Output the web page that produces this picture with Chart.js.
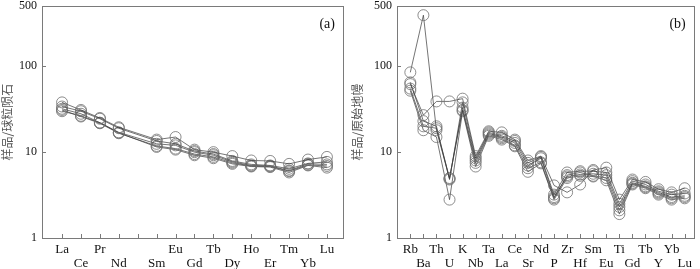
<!DOCTYPE html>
<html><head><meta charset="utf-8">
<script src="https://cdn.jsdelivr.net/npm/chart.js@4.4.1/dist/chart.umd.min.js"></script>
<style>
html,body{margin:0;padding:0;background:#fff;}
#wrap{display:flex;width:700px;height:269px;}
canvas{display:block;}
</style></head><body>
<div id="wrap"><canvas id="ca" width="350" height="269"></canvas><canvas id="cb" width="350" height="269"></canvas></div>
<script>
// ---- Panel (a): chondrite-normalized REE ----
const reeLabels = ['La','Ce','Pr','Nd','','Sm','Eu','Gd','Tb','Dy','Ho','Er','Tm','Yb','Lu'];
const reeS1 = [38, 31, 25, 19.5, null, 14, 15, 10.7, 10, 9.0, 8.0, 7.9, 7.3, 8.2, 8.8];
const reeS2 = [34, 30, 24.5, 19, null, 13.5, 12.5, 10.3, 9.5, 7.9, 7.2, 7.0, 6.4, 7.4, 7.7];
const reeS3 = [32, 28, 22, 17, null, 12.5, 12, 10, 9.2, 7.7, 7.0, 6.9, 6.1, 7.3, 7.2];
const reeS4 = [31, 26, 21.7, 16.6, null, 11.8, 11, 9.5, 8.8, 7.5, 6.9, 6.8, 6.0, 7.1, 6.9];
const reeS5 = [30, 26.5, 22, 16.8, null, 11.5, 10.7, 9.2, 8.5, 7.3, 6.8, 6.7, 5.8, 7.0, 6.6];

// ---- Panel (b): primitive-mantle-normalized spider ----
const spLabels = ['Rb','Ba','Th','U','K','Nb','Ta','La','Ce','Sr','Nd','P','Zr','Hf','Sm','Eu','Ti','Gd','Tb','Y','Yb','Lu'];
const spS1 = [85, 394, 18, 4.9, 33, 8.0, 16.5, 15, 12.8, 7.0, 8.5, 3.0, 5.2, 5.5, 5.6, 5.4, 2.3, 4.4, 4.0, 3.4, 3.0, 3.1];
const spS2 = [62, 27, 39, 39, 42, 9.0, 17.5, 17, 14, 8.0, 9.0, 4.1, 3.4, 4.2, 6.2, 6.6, 2.8, 4.8, 4.5, 3.7, 3.4, 3.8];
const spS3 = [65, 23, 20, 4.8, 38, 8.5, 17, 15.5, 13.5, 7.5, 8.8, 3.2, 5.8, 6.0, 6.0, 5.8, 2.5, 4.6, 4.2, 3.5, 3.2, 3.3];
const spS4 = [55, 20, 19, 5.0, 31, 7.5, 16, 14.5, 12, 6.5, 7.6, 2.9, 5.4, 5.8, 5.3, 5.0, 2.1, 4.3, 3.9, 3.3, 2.9, 3.0];
const spS5 = [52, 18, 15, 2.8, 30, 6.8, 15.5, 14, 11.7, 5.9, 7.4, 2.8, 5.0, 5.3, 5.2, 4.7, 1.9, 4.2, 3.8, 3.2, 2.8, 2.9];

const yTicks = [1, 10, 100, 500];
const SERIF = '"Liberation Serif", "Times New Roman", serif';

const frame = {
  id: 'frame',
  afterDraw(chart, args, opts) {
    const {ctx, chartArea: a, scales} = chart;
    ctx.save();
    ctx.strokeStyle = '#7a7a7a';
    ctx.lineWidth = 1;
    ctx.strokeRect(Math.round(a.left) + 0.5, Math.round(a.top) + 0.5, Math.round(a.right - a.left), Math.round(a.bottom - a.top));
    ctx.beginPath();
    scales.x.ticks.forEach(t => {
      const x = Math.round(scales.x.getPixelForValue(t.value)) + 0.5;
      ctx.moveTo(x, a.bottom); ctx.lineTo(x, a.bottom - 4);
    });
    scales.y.ticks.forEach(t => {
      const y = Math.round(scales.y.getPixelForValue(t.value)) + 0.5;
      ctx.moveTo(a.left, y); ctx.lineTo(a.left + 4, y);
    });
    ctx.stroke();
    ctx.fillStyle = '#111';
    ctx.font = '14px ' + SERIF;
    ctx.textAlign = 'right';
    ctx.textBaseline = 'middle';
    ctx.fillText(opts.tag, a.right - 8, a.top + 18);
    ctx.restore();
  }
};

function makeChart(id, labels, series, yTitle, xMin, xMax, yW, padR, tag) {
  const ds = series.map(s => ({
    data: s.map((v, i) => ({x: i, y: v})),
    borderColor: '#3a3a3a',
    borderWidth: 0.7,
    pointRadius: 5.5,
    pointBorderColor: '#707070',
    pointBorderWidth: 0.8,
    pointBackgroundColor: 'rgba(0,0,0,0)',
    spanGaps: true,
    tension: 0,
    fill: false
  }));
  return new Chart(document.getElementById(id), {
    type: 'line',
    data: {datasets: ds},
    options: {
      responsive: false,
      animation: false,
      devicePixelRatio: 1,
      layout: {padding: {left: 0, right: padR, top: 3, bottom: 0}},
      plugins: {legend: {display: false}, tooltip: {enabled: false}, frame: {tag}},
      scales: {
        x: {
          type: 'linear', min: xMin, max: xMax,
          afterBuildTicks: s => { s.ticks = labels.map((_, i) => ({value: i})); },
          afterFit: s => { s.height = 31; s.paddingLeft = 0; s.paddingRight = 0; },
          grid: {display: false, drawTicks: false},
          border: {display: false},
          ticks: {
            autoSkip: false, maxRotation: 0, minRotation: 0, padding: 4,
            color: '#111',
            font: {family: SERIF, size: 13, lineHeight: 1.1},
            callback: v => { const i = Math.round(v); const l = labels[i]; return i % 2 ? ['', l] : l; }
          }
        },
        y: {
          type: 'logarithmic', min: 1, max: 500,
          afterBuildTicks: s => { s.ticks = yTicks.map(v => ({value: v})); },
          afterFit: s => { s.width = yW; s.paddingTop = 0; s.paddingBottom = 0; },
          grid: {display: false, drawTicks: false},
          border: {display: false},
          ticks: {
            padding: 5, color: '#111',
            font: {family: SERIF, size: 12},
            callback: v => String(v)
          },
          title: {
            display: true, text: yTitle, color: '#555', padding: 0,
            font: {family: 'Noto Sans CJK SC', size: 12}
          }
        }
      }
    },
    plugins: [frame]
  });
}

makeChart('ca', reeLabels, [reeS1, reeS2, reeS3, reeS4, reeS5], '样品/球粒陨石', -1.06, 14.85, 42, 7, '(a)');
makeChart('cb', spLabels, [spS1, spS2, spS3, spS4, spS5], '样品/原始地幔', -1.02, 21.69, 47, 5, '(b)');
</script>
</body></html>
